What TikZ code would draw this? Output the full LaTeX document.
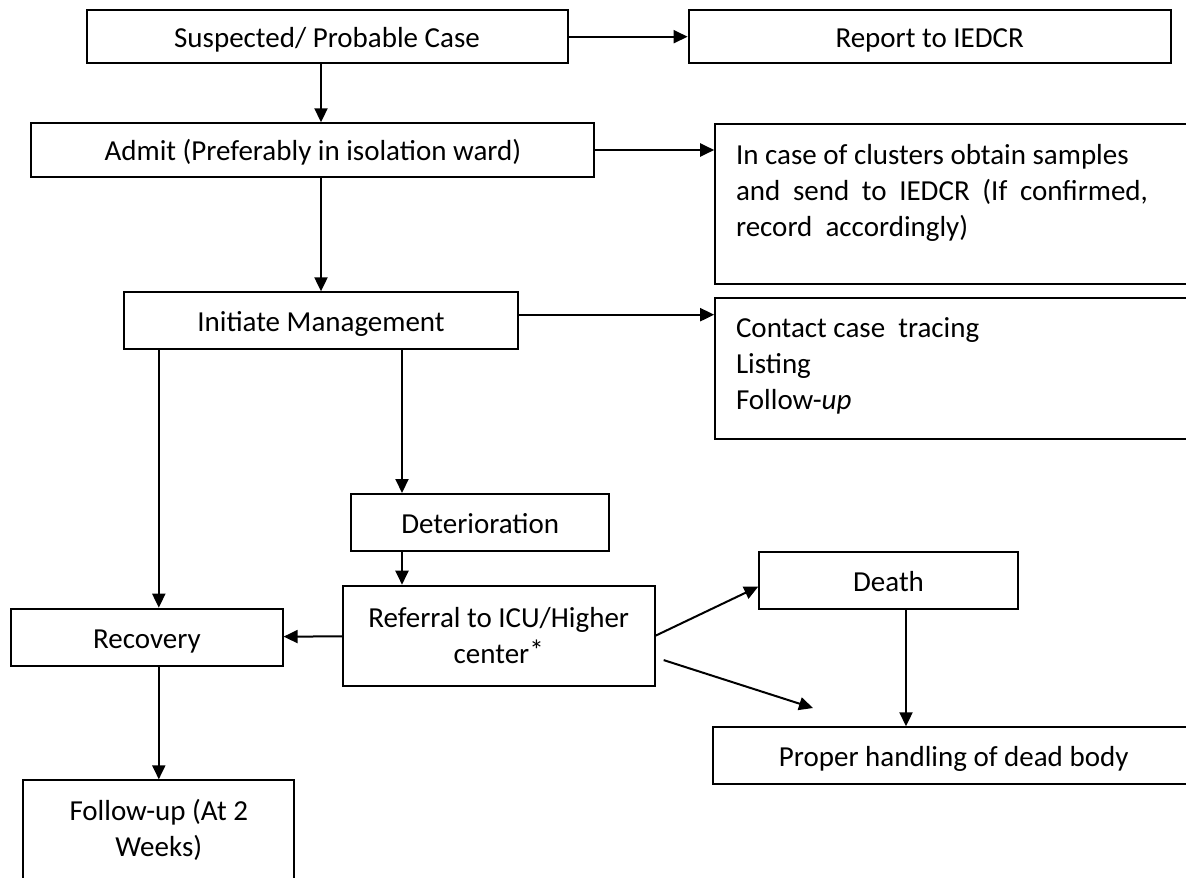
\documentclass[tikz,border=0pt]{standalone}
\usepackage{fontspec}
\setmainfont{Carlito}
\usetikzlibrary{arrows.meta}

\begin{document}
\begin{tikzpicture}[x=0.5pt, y=-0.5pt,
                    every node/.style={font=\fontsize{14.5}{18}\selectfont},
                    box/.style={draw, line width=1pt, inner sep=0pt,
                                text height=12pt, text depth=1pt},
                    tallbox/.style={draw, line width=1pt, align=center},
                    topbox/.style={draw, line width=1pt, anchor=north west,
                                   align=flush left, inner xsep=10.4pt,
                                   inner ysep=9pt, text height=11pt},
                    arr/.style={line width=1pt,
                                -{Triangle[length=7pt, width=6.5pt]}}]
                      \useasboundingbox (0, 0) rectangle (1186, 877);
                      \clip (0, 0) rectangle (1186, 877);

                      \node[box, minimum width=240.5pt, minimum height=26.7pt] (susp) at (327, 36.7) {Suspected/ Probable Case};
                      \node[box, minimum width=241.1pt, minimum height=26.7pt] (report) at (929.7, 36.7) {Report to IEDCR};
                      \node[box, minimum width=281.5pt, minimum height=26.7pt] (admit) at (312.9, 150) {Admit (Preferably in isolation ward)};
                      \node[topbox, text width=219.2pt, text depth=50.7pt] (cluster) at (714.2, 123.3)
                           {In case of clusters obtain samples\\
                            \makebox[206pt][s]{and send to IEDCR (If confirmed,}\\
                            record~ accordingly)};
                      \node[box, minimum width=196.7pt, minimum height=28.35pt] (init) at (321, 320.7) {Initiate Management};
                      \node[topbox, text width=219.2pt, text depth=41.8pt] (contact) at (714.2, 296.7)
                           {Contact case~ tracing\\ Listing\\ Follow-\textit{up}};
                      \node[box, minimum width=129.2pt, minimum height=28.5pt] (det) at (480.2, 522.5) {Deterioration};
                      \node[tallbox, minimum width=155.8pt, minimum height=50pt] (ref) at (498.7, 635.7) {Referral to ICU/Higher\\ center\raisebox{0.1em}{*}};
                      \node[box, minimum width=129.3pt, minimum height=28.5pt] (death) at (888.5, 580.5) {Death};
                      \node[box, minimum width=135.7pt, minimum height=28.5pt] (recov) at (146.9, 637.2) {Recovery};
                      \node[box, minimum width=240.35pt, minimum height=28.5pt] (proper) at (953.7, 755.8) {Proper handling of dead body};
                      \node[topbox, align=flush center, text width=114.7pt, text depth=31pt] (follow) at (22.3, 779.3)
                           {Follow-up (At 2\\ Weeks)};

                      \coordinate (colA) at (402, 0);
                      \coordinate (colB) at (906, 0);
                      \coordinate (loose) at (813, 708);

                      \foreach \i/\j in {susp/report, ref/recov} {
                              \draw[arr] (\i) -- (\j);
                          }
                      \draw[arr] (susp.south -| init) -- (admit.north -| init);
                      \draw[arr] (admit.south -| init) -- (init);
                      \draw[arr] (admit.east) -- (admit.east -| cluster.west);
                      \draw[arr] ([yshift=3pt]init.east) -- ([yshift=3pt]init.east -| contact.west);
                      \draw[arr] (init.south -| follow) -- (recov.north -| follow);
                      \draw[arr] (recov.south -| follow) -- (follow.north);
                      \draw[arr] (init.south -| colA) -- (det.north -| colA);
                      \draw[arr] (det.south -| colA) -- (ref.north -| colA);
                      \draw[arr] (ref.east) -- ([yshift=-3.1pt]death.west);
                      \draw[arr] ([xshift=4.1pt, yshift=-12.2pt]ref.east) -- (loose);
                      \draw[arr] (death.south -| colB) -- (proper.north -| colB);
                  \end{tikzpicture}
\end{document}
